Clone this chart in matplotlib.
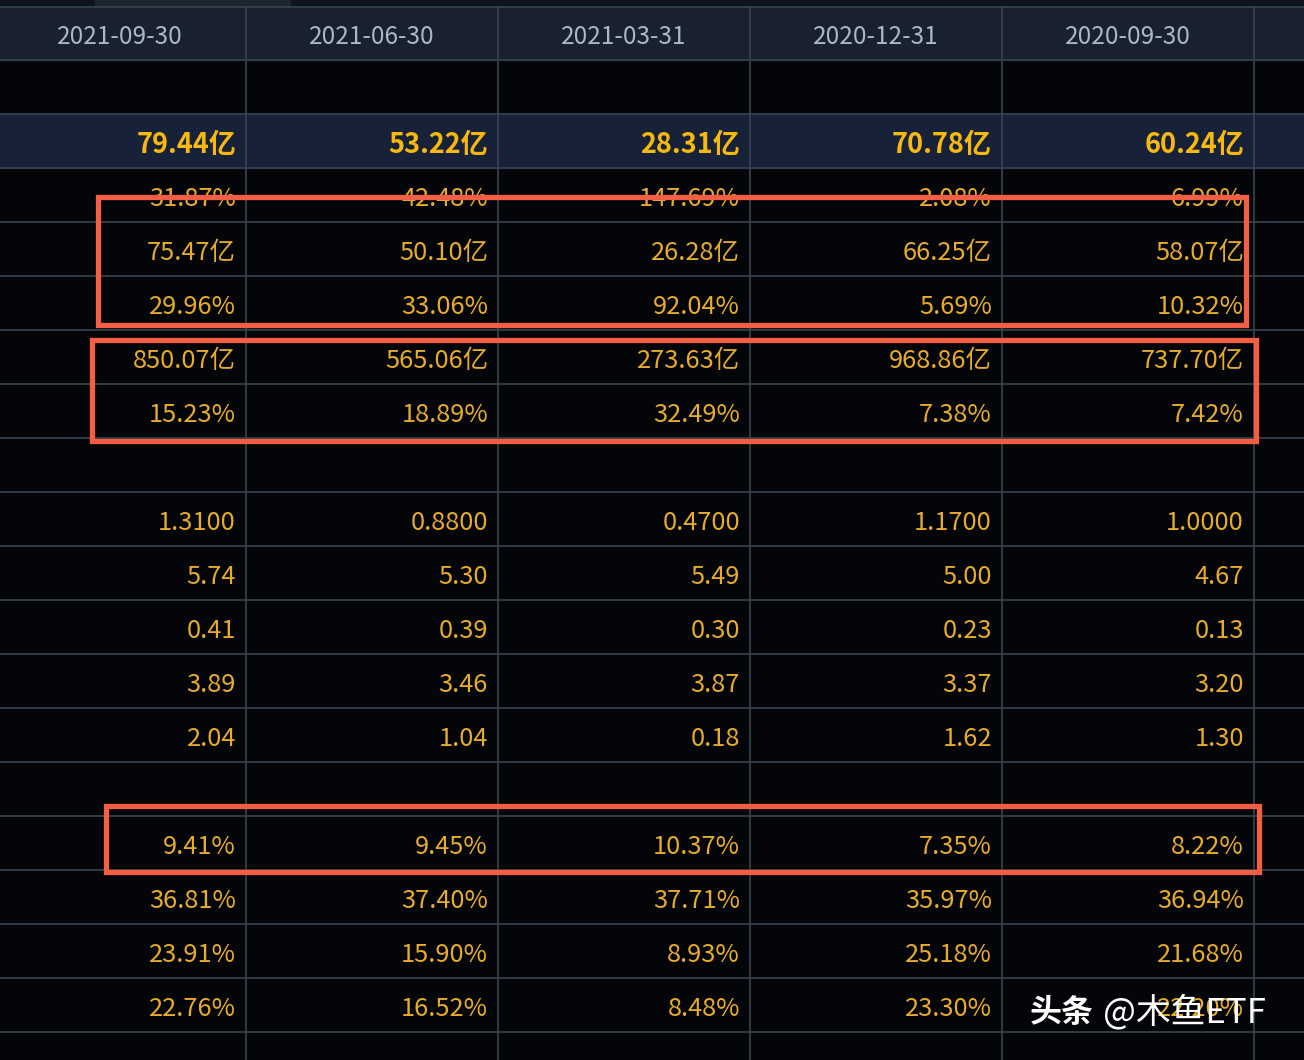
import matplotlib
matplotlib.use("Agg")
import matplotlib.pyplot as plt
from matplotlib.patches import Rectangle

plt.rcParams['font.family'] = ['Noto Sans CJK SC', 'DejaVu Sans']

# ---- data ----
dates = ["2021-09-30", "2021-06-30", "2021-03-31", "2020-12-31", "2020-09-30"]

headline = ["79.44亿", "53.22亿", "28.31亿", "70.78亿", "60.24亿"]
headline_yoy = ["31.87%", "42.48%", "147.69%", "2.08%", "6.99%"]
profit = ["75.47亿", "50.10亿", "26.28亿", "66.25亿", "58.07亿"]
profit_yoy = ["29.96%", "33.06%", "92.04%", "5.69%", "10.32%"]
revenue = ["850.07亿", "565.06亿", "273.63亿", "968.86亿", "737.70亿"]
revenue_yoy = ["15.23%", "18.89%", "32.49%", "7.38%", "7.42%"]
eps = ["1.3100", "0.8800", "0.4700", "1.1700", "1.0000"]
bvps = ["5.74", "5.30", "5.49", "5.00", "4.67"]
cfps = ["0.41", "0.39", "0.30", "0.23", "0.13"]
reserve_ps = ["3.89", "3.46", "3.87", "3.37", "3.20"]
undist_ps = ["2.04", "1.04", "0.18", "1.62", "1.30"]
roe = ["9.41%", "9.45%", "10.37%", "7.35%", "8.22%"]
gross_margin = ["36.81%", "37.40%", "37.71%", "35.97%", "36.94%"]
net_margin_a = ["23.91%", "15.90%", "8.93%", "25.18%", "21.68%"]
net_margin_b = ["22.76%", "16.52%", "8.48%", "23.30%", "22.20%"]

rows = [None, headline, headline_yoy, profit, profit_yoy, revenue, revenue_yoy,
        None, eps, bvps, cfps, reserve_ps, undist_ps, None,
        roe, gross_margin, net_margin_a, net_margin_b, None]
highlight_row = 1

# ---- layout (pixels) ----
W, H = 1304, 1060
col_w = 252
col0 = -6
head_top, head_bot = 7, 60
row_h = 54

bg = "#030508"
head_bg = "#19212f"
hl_bg = "#172238"
grid_c = "#37444f"
txt_c = "#e8ab2a"
hl_c = "#f7b90f"
head_c = "#a9b9c9"
box_c = "#f45e45"

fig = plt.figure(figsize=(W / 100, H / 100), dpi=100, facecolor=bg)
ax = fig.add_axes([0, 0, 1, 1])
ax.set_xlim(0, W)
ax.set_ylim(H, 0)
ax.axis("off")
ax.set_facecolor(bg)

# top strip + header band
ax.add_patch(Rectangle((0, 0), W, head_top, color="#0e131c", zorder=0))
ax.add_patch(Rectangle((95, 0), 195, head_top, color="#1d2531", zorder=0))
ax.add_patch(Rectangle((0, head_top), W, head_bot - head_top, color=head_bg, zorder=0))

# highlighted row
y_hl = head_bot + highlight_row * row_h
ax.add_patch(Rectangle((0, y_hl), W, row_h, color=hl_bg, zorder=0))

# grid lines
ax.axhline(head_top, color=grid_c, lw=1.2, zorder=1)
for r in range(len(rows)):
    ax.axhline(head_bot + r * row_h, color=grid_c, lw=1.2, zorder=1)
for c in range(1, len(dates) + 1):
    ax.plot([col0 + c * col_w] * 2, [head_top, H], color=grid_c, lw=1.2, zorder=1)

# header text
for c, d in enumerate(dates):
    xc = col0 + c * col_w + col_w / 2
    ax.text(xc, (head_top + head_bot) / 2 + 3, d, color=head_c, fontsize=17.5,
            ha="center", va="center", zorder=3)

# cell values
for r, vals in enumerate(rows):
    if vals is None:
        continue
    yc = head_bot + r * row_h + row_h / 2 + 4
    bold = r == highlight_row
    for c, v in enumerate(vals):
        xr = col0 + (c + 1) * col_w - 10
        ax.text(xr, yc, v, color=hl_c if bold else txt_c,
                fontsize=19.5 if bold else 18.3,
                fontweight="bold" if bold else "normal",
                ha="right", va="center", zorder=3)

# red annotation boxes
boxes = [(98, 1246, 197, 325), (92, 1256, 340, 441), (106, 1259, 806, 872)]
for x0, x1, y0, y1 in boxes:
    ax.add_patch(Rectangle((x0, y0), x1 - x0, y1 - y0, fill=False,
                           edgecolor=box_c, lw=3.8, zorder=4))

# watermark (it sits over the last cell in the source image too)
ax.text(1030, 1013, "头条", color="white", fontsize=23, fontweight="bold",
        ha="left", va="center", zorder=5)
ax.text(1103, 1013, "@木鱼ETF", color="white", fontsize=25,
        ha="left", va="center", zorder=5)

fig.savefig("out.png", dpi=100, facecolor=bg)
